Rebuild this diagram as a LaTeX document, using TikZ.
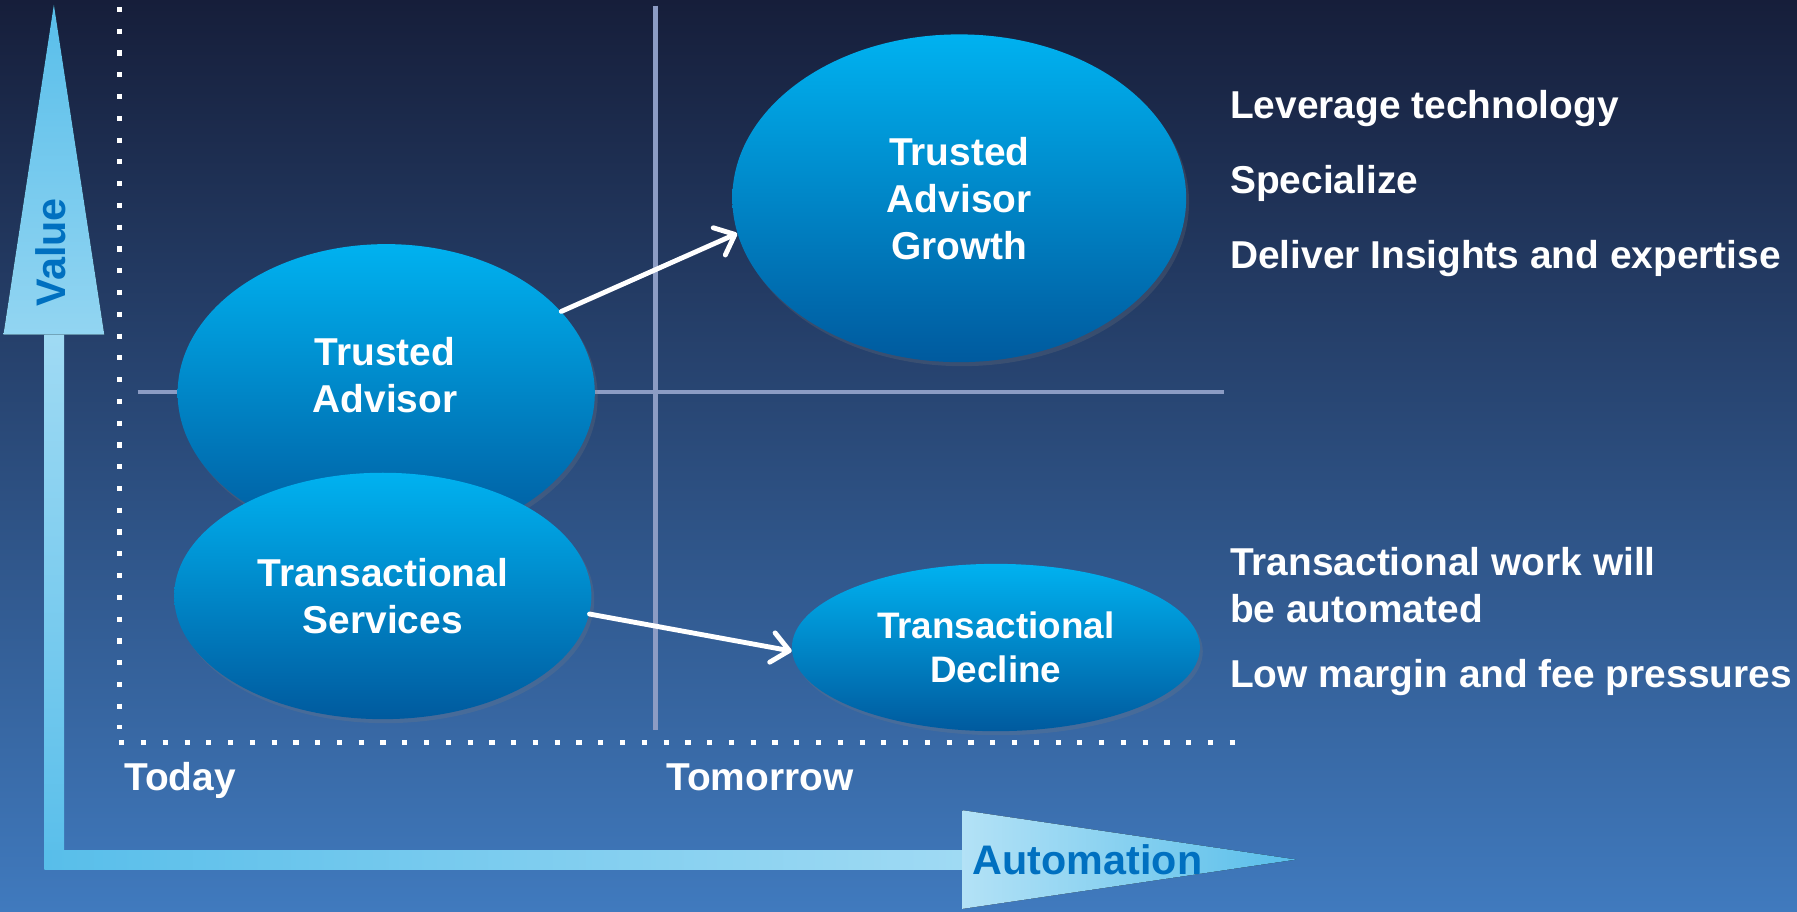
\documentclass[tikz,border=0pt]{standalone}
\usepackage{fontspec}
\setmainfont{Liberation Sans}
\definecolor{bgtop}{RGB}{22, 30, 58}
\definecolor{bgmid}{RGB}{42, 64, 118}
\definecolor{bgbot}{RGB}{64, 122, 190}
\definecolor{bubtop}{RGB}{0, 178, 240}
\definecolor{bubbot}{RGB}{0, 90, 158}
\definecolor{axisblue}{RGB}{88, 190, 234}
\definecolor{axispale}{RGB}{218, 241, 251}
\definecolor{labelblue}{RGB}{0, 112, 192}
\definecolor{gridgray}{RGB}{140, 156, 196}
\usepackage{tikz}
\usetikzlibrary{shapes.geometric, arrows.meta, positioning, calc, shadows}

\begin{document}
\begin{tikzpicture}[x=0.2mm, y=-0.2mm,
  bubbletext/.style={text=white, font=\fontsize{19.3}{23.3}\selectfont\bfseries, align=center, inner sep=0pt},
  bubble/.style={bubbletext, ellipse, top color=bubtop, bottom color=bubbot, drop shadow={shadow xshift=0.5mm, shadow yshift=-0.7mm, opacity=0.22}},
  note/.style={text=white, font=\fontsize{19.3}{23.3}\selectfont\bfseries, align=left, inner sep=0pt, anchor=base west},
  axislabel/.style={text=labelblue, font=\fontsize{20.5}{24}\selectfont\bfseries, inner sep=0pt},
  dotline/.style={white, line width=0.9mm, dash pattern=on 0.9mm off 2.9mm},
  gridline/.style={gridgray, line width=0.75mm},
  flow/.style={white, line width=0.85mm, line cap=round, -{Straight Barb[length=3mm, width=5.2mm, round]}}]

  % Background
  \useasboundingbox (0,0) rectangle (1568,795);
  \fill[top color=bgtop, middle color=bgmid, bottom color=bgbot] (0,0) rectangle (1568,795);

  % Axes
  \fill[top color=axisblue!45!axispale, bottom color=axisblue] (39,292) rectangle (56,759);
  \fill[top color=axisblue, bottom color=axisblue!55!axispale] (3,292) -- (47,4) -- (91,292) -- cycle;
  \fill[left color=axisblue, middle color=axispale, right color=axisblue!45!axispale] (39,742) rectangle (841,759);
  \fill[left color=axispale!70!axisblue, right color=axisblue] (840,707) -- (1131,750) -- (840,793) -- cycle;
  \node[axislabel, rotate=90] (value) at (44,220) {Value};
  \node[axislabel] (automation) at (949,750) {Automation};

  % Quadrants
  \draw[dotline] (104,6) -- (104,636);
  \draw[dotline] (104,648) -- (1080,648);
  \draw[gridline] (572,5) -- (572,637);
  \draw[gridline] (120,342) -- (1068,342);
  \node[note] (today) at (108,690) {Today};
  \node[note] (tomorrow) at (581,690) {Tomorrow};

  % Bubbles
  \node[bubble, minimum width=72.8mm, minimum height=52mm] (ta) at (337,343) {};
  \node[bubbletext] (tatext) at (336,327) {Trusted\\Advisor};
  \node[bubble, minimum width=72.8mm, minimum height=43mm] (ts) at (334,520) {Transactional\\Services};
  \node[bubble, minimum width=79.2mm, minimum height=57.2mm] (tag) at (837,173) {Trusted\\Advisor\\Growth};
  \node[bubble, minimum width=71.2mm, minimum height=29.2mm, font=\fontsize{18.3}{22}\selectfont\bfseries] (td) at (869,565) {Transactional\\Decline};

  \draw[flow] (ta.25) -- (tag.189);
  \draw[flow] (ts.-5) -- (td.181);

  % Notes
  \node[note] (leverage) at (1073,103) {Leverage technology};
  \node[note] (specialize) at (1073,169) {Specialize};
  \node[note] (deliver) at (1073,234) {Deliver Insights and expertise};
  \node[note] (automated) at (1073,543) {Transactional work will\\be automated};
  \node[note] (margin) at (1073,600) {Low margin and fee pressures};
\end{tikzpicture}
\end{document}
